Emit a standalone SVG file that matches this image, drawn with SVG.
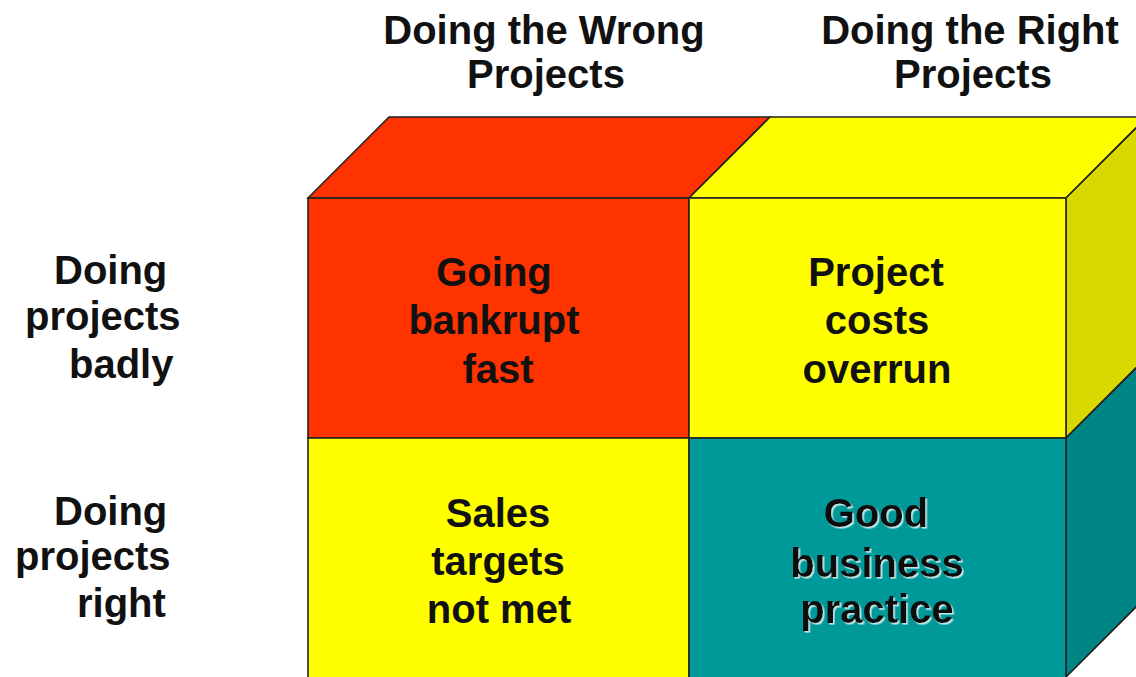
<svg xmlns="http://www.w3.org/2000/svg" width="1136" height="677" viewBox="0 0 1136 677">
<style>
.lbl{font-family:"Liberation Sans",Arial,sans-serif;font-weight:bold;font-size:40px;fill:#111;}
.c{text-anchor:middle;}
.face{stroke:#222;stroke-width:1.6;stroke-linejoin:miter;}
</style>
<defs>
<filter id="emboss" x="-10%" y="-10%" width="120%" height="130%">
<feDropShadow dx="1.6" dy="1.6" stdDeviation="0.4" flood-color="#d8f0f0" flood-opacity="0.9"/>
</filter>
</defs>
<rect x="0" y="0" width="1136" height="677" fill="#ffffff"/>

<g id="header-wrong">
<text class="lbl c" x="544" y="44">Doing the Wrong</text>
<text class="lbl c" x="546" y="88">Projects</text>
</g>
<g id="header-right">
<text class="lbl c" x="970" y="44">Doing the Right</text>
<text class="lbl c" x="973" y="88">Projects</text>
</g>
<g id="row-badly">
<text class="lbl" x="54" y="284">Doing</text>
<text class="lbl" x="25" y="330">projects</text>
<text class="lbl" x="69" y="378">badly</text>
</g>
<g id="row-right">
<text class="lbl" x="54" y="525">Doing</text>
<text class="lbl" x="15" y="570">projects</text>
<text class="lbl" x="77" y="617">right</text>
</g>

<g id="top-faces">
<polygon class="face" points="308,198 389,117 770,117 689,198" fill="#FF3300"/>
<polygon class="face" points="689,198 770,117 1147,117 1066,198" fill="#FFFF00"/>
</g>
<g id="side-faces">
<polygon class="face" points="1066,198 1147,117 1147,357 1066,438" fill="#D9D900"/>
<polygon class="face" points="1066,438 1147,357 1147,596 1066,677" fill="#008585"/>
</g>

<g id="cell-bankrupt">
<rect class="face" x="308" y="198" width="381" height="240" fill="#FF3300"/>
<text class="lbl c" x="494" y="286">Going</text>
<text class="lbl c" x="494" y="334">bankrupt</text>
<text class="lbl c" x="498" y="383">fast</text>
</g>
<g id="cell-overrun">
<rect class="face" x="689" y="198" width="377" height="240" fill="#FFFF00"/>
<text class="lbl c" x="876" y="286">Project</text>
<text class="lbl c" x="877" y="334">costs</text>
<text class="lbl c" x="877" y="383">overrun</text>
</g>
<g id="cell-sales">
<rect class="face" x="308" y="438" width="381" height="242" fill="#FFFF00"/>
<text class="lbl c" x="498" y="527">Sales</text>
<text class="lbl c" x="498" y="575">targets</text>
<text class="lbl c" x="499" y="623">not met</text>
</g>
<g id="cell-good">
<rect class="face" x="689" y="438" width="377" height="242" fill="#009999"/>
<g filter="url(#emboss)">
<text class="lbl c" x="876" y="527">Good</text>
<text class="lbl c" x="877" y="577">business</text>
<text class="lbl c" x="877" y="623">practice</text>
</g>
</g>
<g id="connectors"></g>
</svg>
